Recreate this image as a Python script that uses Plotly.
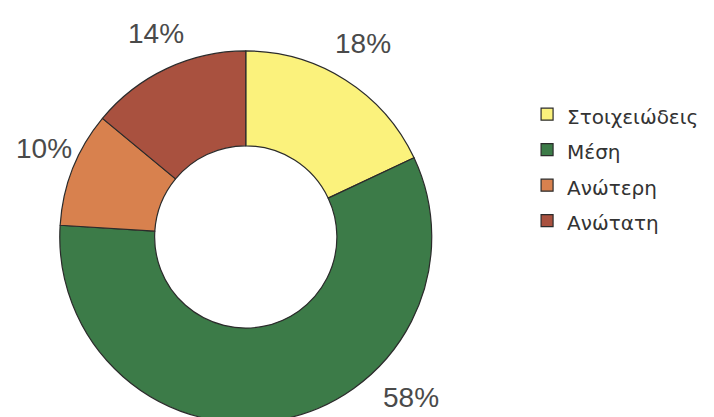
import plotly.graph_objects as go

# education level shares
categories = ["Στοιχειώδεις", "Μέση", "Ανώτερη", "Ανώτατη"]
shares = [18, 58, 10, 14]
colors = ["#FBF27C", "#3C7B48", "#D8814E", "#A9513F"]

# where the % labels sit (paper coords), same order as categories
label_pos = [(0.497, 0.914), (0.564, 0.066), (0.050, 0.664), (0.207, 0.940)]

fig = go.Figure()
fig.add_trace(go.Pie(
    labels=['<span style="font-size:20px">%s</span>' % c for c in categories],
    values=shares,
    marker=dict(colors=colors, line=dict(color="#2b2b2b", width=1.2)),
    hole=0.49,
    sort=False,
    direction="clockwise",
    rotation=0,
    textinfo="none",
    domain=dict(x=[0.072, 0.594], y=[0.005, 0.897]),
))

for v, (px_, py_) in zip(shares, label_pos):
    fig.add_annotation(x=px_, y=py_, xref="paper", yref="paper",
                       xanchor="center", yanchor="middle",
                       text="%d%%" % v, showarrow=False,
                       font=dict(size=28, color="#4a4a4a", family="Liberation Sans, Arial"))

fig.update_layout(
    width=714, height=417,
    margin=dict(l=0, r=0, t=0, b=0, autoexpand=False),
    paper_bgcolor="white",
    font=dict(family="Liberation Sans, Arial", color="#333333"),
    legend=dict(x=0.727, y=0.80, xanchor="left", yanchor="top",
                font=dict(size=25, color="#333333", family="DejaVu Sans"),
                bgcolor="rgba(0,0,0,0)"),
)

fig.write_html("out.html")
